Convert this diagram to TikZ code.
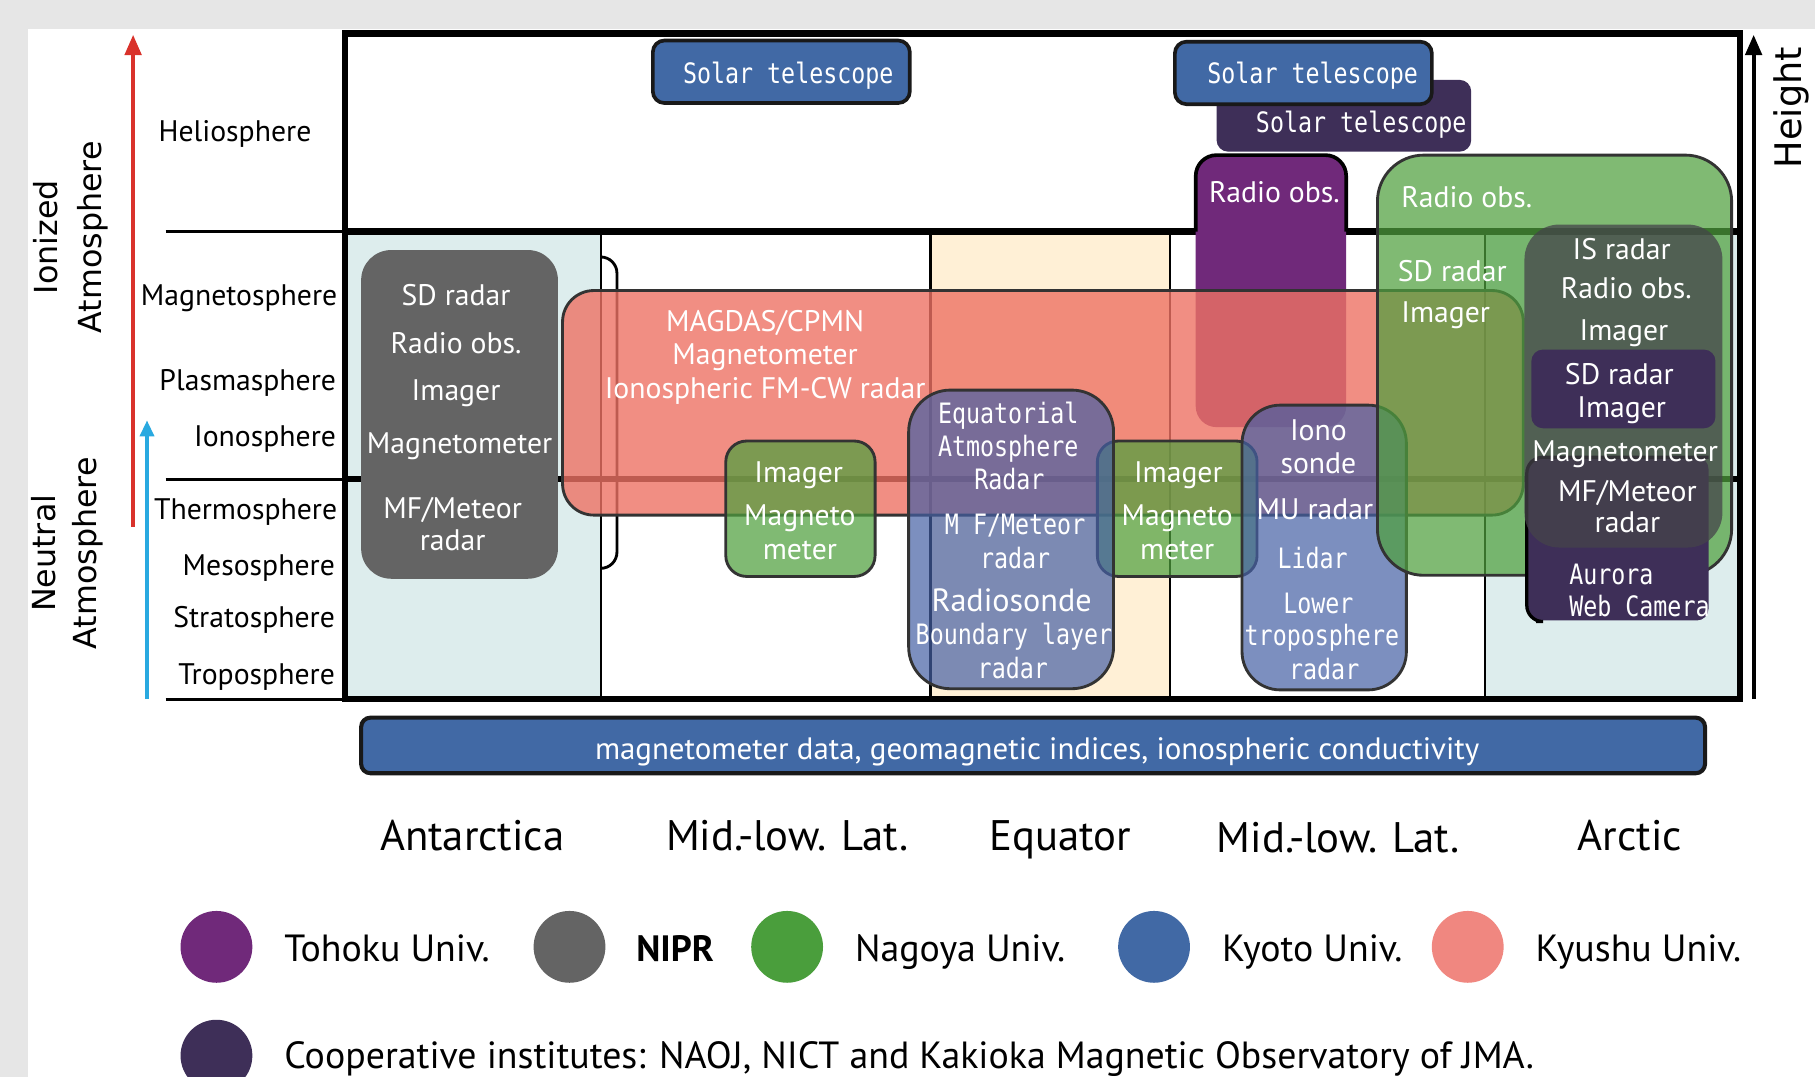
\documentclass[tikz,border=0pt]{standalone}
\usepackage{fontspec}
\setmainfont{PT Sans}
\newfontfamily\monofont[FakeStretch=0.83]{DejaVu Sans Mono}
\newfontfamily\dejavu{DejaVu Sans}
\usetikzlibrary{arrows.meta}

\definecolor{bggray}{HTML}{E6E6E6}
\definecolor{polar}{HTML}{DDEDED}
\definecolor{equat}{HTML}{FFF0D6}
\definecolor{tohoku}{HTML}{70297A}
\definecolor{nipr}{HTML}{646464}
\definecolor{nagoya}{HTML}{4A9E3C}
\definecolor{kyoto}{HTML}{4169A5}
\definecolor{kyushu}{HTML}{F08780}
\definecolor{coop}{HTML}{3E2F58}
\definecolor{redbox}{HTML}{EE7264}
\definecolor{greenbox}{HTML}{4FA03E}
\definecolor{bluebox}{HTML}{4560A5}
\definecolor{isgray}{HTML}{45444A}
\definecolor{redarrow}{HTML}{D9322B}
\definecolor{bluearrow}{HTML}{29A9E0}

\tikzset{
  boxtext/.style={text=white,inner sep=0pt,font=\fontsize{7.3}{8}\selectfont,text height=5.1pt,text depth=0pt},
  monotext/.style={text=white,inner sep=0pt,font=\monofont\fontsize{6.9}{8}\selectfont,text height=5pt,text depth=0pt},
  layer/.style={anchor=east,inner sep=0pt,font=\fontsize{7.3}{8}\selectfont,text height=5.1pt,text depth=0pt},
  region/.style={inner sep=0pt,font=\fontsize{10.5}{12}\selectfont,text height=7.3pt,text depth=0pt},
  legtext/.style={anchor=west,inner sep=0pt,font=\fontsize{9.3}{11}\selectfont,text height=6.5pt,text depth=0pt},
  legdot/.style={circle,minimum size=0.62cm,inner sep=0pt},
  outline/.style={draw=black!80,line width=0.7pt},
}

\begin{document}
\begin{tikzpicture}[x=0.01cm,y=-0.01cm]
\useasboundingbox (0,0) rectangle (1568,930);
\clip (0,0) rectangle (1568,930);
\fill[bggray] (0,0) rectangle (1568,930);
\fill[white] (24,25) rectangle (1568,930);

\fill[polar] (298,200) rectangle (519,604);
\fill[equat] (804,200) rectangle (1011,604);
\fill[polar] (1283,200) rectangle (1503,604);
\foreach \x in {519,804,1011,1283}
  \draw[line width=0.6pt] (\x,200) -- (\x,604);
\foreach \y in {200,414,604} {
  \draw[line width=0.8pt] (143,\y) -- (298,\y);
  \draw[line width=1.6pt] (298,\y) -- (1503,\y);
}
\draw[line width=1.6pt] (298,29) rectangle (1503,604);
\draw[line width=0.7pt,rounded corners=0.14cm] (519,222) -- (533,222) -- (533,491) -- (519,491);

\fill[nipr,rounded corners=0.26cm] (312,216) rectangle (482,500);
\fill[tohoku,rounded corners=0.18cm] (1033,134) rectangle (1163,369);
\draw[line width=0.9pt,rounded corners=0.18cm] (1033,200) -- (1033,134) -- (1163,134) -- (1163,200);
\filldraw[fill=redbox,fill opacity=0.8,outline,rounded corners=0.27cm] (486,251) rectangle (1316,445);

\filldraw[fill=greenbox,fill opacity=0.72,outline,rounded corners=0.18cm] (627,381) rectangle (756,498);
\filldraw[fill=greenbox,fill opacity=0.72,outline,rounded corners=0.18cm] (948,381) rectangle (1086,498);
\filldraw[fill=bluebox,fill opacity=0.7,outline,rounded corners=0.36cm] (785,337) rectangle (962,595);
\filldraw[fill=bluebox,fill opacity=0.7,outline,rounded corners=0.33cm] (1073,350) rectangle (1215,596);
\filldraw[fill=greenbox,fill opacity=0.72,outline,rounded corners=0.4cm] (1190,134) rectangle (1496,497);

\fill[coop,rounded corners=0.1cm] (1319,395) rectangle (1476,536);
\draw[line width=0.8pt,rounded corners=0.14cm] (1327,537) -- (1319,537) -- (1319,395) -- (1476,395);
\fill[isgray,fill opacity=0.75,rounded corners=0.3cm] (1317,194) rectangle (1488,473);
\fill[coop,rounded corners=0.1cm] (1323,302) rectangle (1482,370);

\fill[coop,rounded corners=0.1cm] (1051,69) rectangle (1271,131);
\filldraw[fill=kyoto,draw=black!90,line width=0.9pt,rounded corners=0.1cm] (564,35) rectangle (786,89);
\filldraw[fill=kyoto,draw=black!90,line width=0.9pt,rounded corners=0.1cm] (1015,36) rectangle (1237,90);
\filldraw[fill=kyoto,draw=black!90,line width=1pt,rounded corners=0.08cm] (312,620) rectangle (1473,668);

\node[monotext] (sun1) at (681,63) {Solar telescope};
\node[monotext] (sun2) at (1134,63) {Solar telescope};
\node[monotext] (sun3) at (1176,106) {Solar telescope};

\node[boxtext] (ant1) at (394,255) {SD radar};
\node[boxtext] (ant2) at (394,296) {Radio obs.};
\node[boxtext] (ant3) at (394,337) {Imager};
\node[boxtext] (ant4) at (397,383) {Magnetometer};
\node[boxtext] (ant5) at (391,439) {MF/Meteor};
\node[boxtext] (ant6) at (391,467) {radar};

\node[boxtext] (mag1) at (661,277) {MAGDAS/CPMN};
\node[boxtext] (mag2) at (661,306) {Magnetometer};
\node[boxtext] (mag3) at (661,335) {Ionospheric FM-CW radar};

\node[boxtext] (imgA1) at (690,408) {Imager};
\node[boxtext] (imgA2) at (691,445) {Magneto};
\node[boxtext] (imgA3) at (691,474) {meter};
\node[boxtext] (imgB1) at (1018,408) {Imager};
\node[boxtext] (imgB2) at (1017,445) {Magneto};
\node[boxtext] (imgB3) at (1017,474) {meter};

\node[monotext] (ear1) at (871,357) {Equatorial};
\node[monotext] (ear2) at (871,386) {Atmosphere};
\node[monotext] (ear3) at (872,414) {Radar};
\node[monotext] (ear4) at (877,453) {M F/Meteor};
\node[monotext] (ear5) at (877,482) {radar};
\node[boxtext,font=\fontsize{7.9}{9}\selectfont,text height=5.5pt] (ear6) at (874,519) {Radiosonde};
\node[monotext] (ear7) at (876,548) {Boundary layer};
\node[monotext] (ear8) at (875,577) {radar};

\node[boxtext] (iono1) at (1139,372) {Iono};
\node[boxtext] (iono2) at (1139,400) {sonde};
\node[boxtext] (iono3) at (1136,440) {MU radar};
\node[monotext] (iono4) at (1134,482) {Lidar};
\node[monotext] (iono5) at (1139,521) {Lower};
\node[monotext] (iono6) at (1142,549) {troposphere};
\node[monotext] (iono7) at (1144,578) {radar};

\node[boxtext] (tohokuradio) at (1101,166) {Radio obs.};
\node[boxtext,anchor=west] (nag1) at (1210,170) {Radio obs.};
\node[boxtext,anchor=west] (nag2) at (1207,234) {SD radar};
\node[boxtext,anchor=west] (nag3) at (1210,270) {Imager};

\node[boxtext] (arc1) at (1401,215) {IS radar};
\node[boxtext] (arc2) at (1405,249) {Radio obs.};
\node[boxtext] (arc3) at (1403,285) {Imager};
\node[boxtext] (arc4) at (1399,323) {SD radar};
\node[boxtext] (arc5) at (1401,352) {Imager};
\node[boxtext] (arc6) at (1404,390) {Magnetometer};
\node[boxtext] (arc7) at (1406,424) {MF/Meteor};
\node[boxtext] (arc8) at (1406,451) {radar};
\node[monotext,anchor=west] (arc9) at (1355,496) {Aurora};
\node[monotext,anchor=west] (arc10) at (1355,524) {Web Camera};

\node[boxtext,font=\fontsize{7.6}{9}\selectfont] (data) at (896,647) {magnetometer data, geomagnetic indices, ionospheric conductivity};

\node[inner sep=0pt,font=\fontsize{7.3}{8}\selectfont,text height=5.1pt,text depth=0pt] (helio) at (203,113) {Heliosphere};
\node[layer] (magneto) at (292,255) {Magnetosphere};
\node[layer] (plasma) at (291,328) {Plasmasphere};
\node[layer] (iono) at (291,377) {Ionosphere};
\node[layer] (thermo) at (292,440) {Thermosphere};
\node[layer] (meso) at (290,488) {Mesosphere};
\node[layer] (strato) at (290,533) {Stratosphere};
\node[layer] (tropo) at (290,582) {Troposphere};

\draw[redarrow,line width=1pt,-{Triangle[length=5pt,width=4pt]}] (115,455) -- (115,30);
\draw[bluearrow,line width=1pt,-{Triangle[length=4pt,width=3.4pt]}] (127,604) -- (127,363);
\draw[line width=1pt,-{Triangle[length=5pt,width=4pt]}] (1515,604) -- (1515,30);
\node[rotate=90,align=center,font=\dejavu\fontsize{7.8}{10.8}\selectfont] (ionized) at (61,205) {Ionized\\Atmosphere};
\node[rotate=90,align=center,font=\dejavu\fontsize{7.8}{10}\selectfont] (neutral) at (58,478) {Neutral\\Atmosphere};
\node[rotate=90,font=\dejavu\fontsize{9}{10}\selectfont] (height) at (1548,93) {Height};

\node[region] (antarctica) at (408,722) {Antarctica};
\node[region] (midlowS) at (680,722) {Mid.-low. Lat.};
\node[region] (equator) at (916,722) {Equator};
\node[region] (midlowN) at (1156,724) {Mid.-low. Lat.};
\node[region] (arctic) at (1408,722) {Arctic};

\node[legdot,fill=tohoku] (dotTohoku) at (187,818) {};
\node[legdot,fill=nipr] (dotNipr) at (492,818) {};
\node[legdot,fill=nagoya] (dotNagoya) at (680,818) {};
\node[legdot,fill=kyoto] (dotKyoto) at (997,818) {};
\node[legdot,fill=kyushu] (dotKyushu) at (1268,818) {};
\node[legdot,fill=coop] (dotCoop) at (187,912) {};
\node[legtext] (legTohoku) at (245,819) {Tohoku Univ.};
\node[legtext,font=\bfseries\fontsize{9}{11}\selectfont] (legNipr) at (549,819) {NIPR};
\node[legtext] (legNagoya) at (738,819) {Nagoya Univ.};
\node[legtext] (legKyoto) at (1055,819) {Kyoto Univ.};
\node[legtext] (legKyushu) at (1326,819) {Kyushu Univ.};
\node[legtext] (legCoop) at (245,912) {Cooperative institutes: NAOJ, NICT and Kakioka Magnetic Observatory of JMA.};
\end{tikzpicture}
\end{document}
